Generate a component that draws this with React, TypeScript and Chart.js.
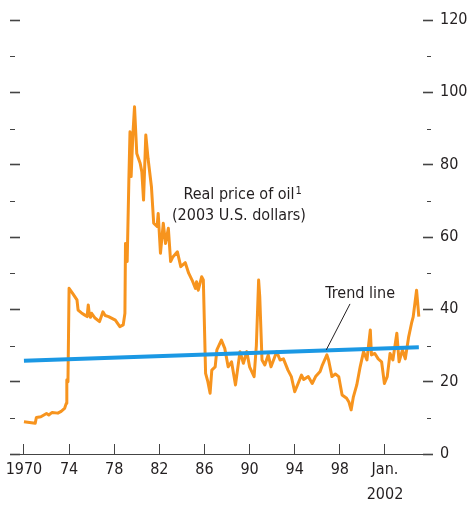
import React, { useEffect, useRef } from "react";
import { Chart, registerables } from "chart.js";

Chart.register(...registerables);

const FONT = "'DejaVu Sans Condensed', 'Liberation Sans Narrow', sans-serif";
const FS = 16;

// Real price of oil (2003 U.S. dollars)
const oilYears = [
  1970.0, 1970.5, 1971.0, 1971.1, 1971.5, 1972.0, 1972.2, 1972.5, 1973.0, 1973.3,
  1973.6, 1973.75, 1973.8, 1973.9, 1974.0, 1974.3, 1974.7, 1974.8, 1975.1, 1975.4,
  1975.6, 1975.7, 1975.8, 1975.9, 1976.0, 1976.3, 1976.7, 1977.0, 1977.2, 1977.5,
  1978.1, 1978.5, 1978.8, 1978.95, 1979.0, 1979.15, 1979.3, 1979.4, 1979.5, 1979.65,
  1979.8, 1980.0, 1980.3, 1980.45, 1980.6, 1980.8, 1981.0, 1981.3, 1981.5, 1981.8,
  1981.9, 1982.1, 1982.35, 1982.55, 1982.8, 1983.0, 1983.2, 1983.6, 1983.9, 1984.3,
  1984.6, 1984.9, 1985.2, 1985.3, 1985.45, 1985.75, 1985.9, 1986.1, 1986.3, 1986.5,
  1986.65, 1986.95, 1987.1, 1987.5, 1987.8, 1988.1, 1988.4, 1988.75, 1989.15, 1989.45,
  1989.75, 1990.0, 1990.4, 1990.6, 1990.8, 1990.9, 1991.1, 1991.35, 1991.65, 1991.9,
  1992.4, 1992.7, 1993.0, 1993.4, 1993.7, 1994.0, 1994.3, 1994.6, 1994.8, 1995.2,
  1995.55, 1995.85, 1996.25, 1996.45, 1996.85, 1997.0, 1997.3, 1997.6, 1997.9, 1998.2,
  1998.6, 1998.8, 1999.0, 1999.2, 1999.5, 1999.8, 2000.1, 2000.4, 2000.7, 2000.8,
  2001.1, 2001.4, 2001.7, 2001.95, 2002.2, 2002.45, 2002.7, 2003.05, 2003.25, 2003.55,
  2003.8, 2004.1, 2004.35, 2004.5, 2004.8, 2005.0,
];
const oilValues = [
  8.9, 8.7, 8.5, 10.1, 10.3, 11.2, 10.8, 11.5, 11.3, 11.8,
  12.6, 14.0, 20.5, 20.0, 45.8, 44.5, 42.6, 39.8, 39.0, 38.4,
  38.0, 41.2, 38.5, 37.8, 38.9, 37.6, 36.6, 39.3, 38.3, 38.0,
  37.0, 35.2, 35.7, 38.9, 58.2, 53.2, 75.8, 89.1, 76.7, 88.0,
  96.0, 83.1, 80.4, 78.0, 70.2, 88.2, 81.7, 73.9, 63.8, 62.9,
  66.5, 55.5, 63.8, 58.2, 62.4, 53.2, 54.5, 55.9, 51.8, 52.9,
  50.0, 48.1, 45.8, 47.6, 45.3, 49.0, 48.1, 22.3, 20.0, 16.8,
  23.2, 24.1, 28.8, 31.5, 29.2, 24.1, 25.5, 19.1, 28.3, 25.1,
  28.3, 24.1, 21.4, 30.0, 48.1, 43.5, 26.0, 24.6, 27.4, 24.1,
  28.3, 26.0, 26.3, 23.2, 21.4, 17.2, 19.5, 21.8, 20.6, 21.4,
  19.5, 21.4, 22.8, 24.6, 27.4, 26.0, 21.4, 22.1, 21.4, 16.3,
  15.4, 14.4, 12.2, 15.8, 19.1, 24.1, 28.3, 26.0, 34.3, 27.4,
  27.8, 26.3, 25.5, 19.5, 21.4, 27.8, 26.0, 33.4, 25.5, 28.8,
  26.3, 32.4, 36.1, 37.9, 45.3, 38.0,
];

const trendYears = [1970.0, 2005.0];
const trendValues = [25.8, 29.5];

const xTickYears = [1970, 1974, 1978, 1982, 1986, 1990, 1994, 1998, 2002];
const xTickLabels: (string | string[])[] = ["1970", "74", "78", "82", "86", "90", "94", "98", ["Jan.", "2002"]];
const yTickValues = [0, 10, 20, 30, 40, 50, 60, 70, 80, 90, 100, 110, 120];

const ORANGE = "#f7941e";
const BLUE = "#1b98e4";
const TEXT = "#231f20";
const TICK = "#444444";

const annotationPlugin = {
  id: "annotations",
  afterDatasetsDraw(chart: any) {
    const { ctx, scales } = chart;
    const x = scales.x;
    const y = scales.yR;
    ctx.save();
    ctx.fillStyle = TEXT;
    ctx.textBaseline = "alphabetic";
    ctx.font = `${FS}px ${FONT}`;
    const main = "Real price of oil";
    const cx = x.getPixelForValue(1989.06);
    const w = ctx.measureText(main).width;
    const by = y.getPixelForValue(70.5);
    ctx.textAlign = "left";
    ctx.fillText(main, cx - w / 2, by);
    ctx.font = `11px ${FONT}`;
    ctx.fillText("1", cx + w / 2 + 1, by - 5);
    ctx.font = `${FS}px ${FONT}`;
    ctx.textAlign = "center";
    ctx.fillText("(2003 U.S. dollars)", cx, y.getPixelForValue(64.8));
    ctx.fillText("Trend line", x.getPixelForValue(1999.8), y.getPixelForValue(43.0));
    ctx.strokeStyle = TEXT;
    ctx.lineWidth = 1;
    ctx.beginPath();
    ctx.moveTo(x.getPixelForValue(1998.9), y.getPixelForValue(41.5));
    ctx.lineTo(x.getPixelForValue(1996.8), y.getPixelForValue(28.8));
    ctx.stroke();
    ctx.restore();
  },
};

const minorTickPlugin = {
  id: "minorTicks",
  afterDraw(chart: any) {
    const { ctx, scales, chartArea } = chart;
    ctx.save();
    ctx.strokeStyle = TICK;
    ctx.lineWidth = 1;
    for (const v of yTickValues) {
      if (v % 20 === 0) continue;
      const py = Math.round(scales.yL.getPixelForValue(v)) + 0.5;
      ctx.beginPath();
      ctx.moveTo(chartArea.left - 10, py);
      ctx.lineTo(chartArea.left - 5, py);
      ctx.moveTo(chartArea.right + 4, py);
      ctx.lineTo(chartArea.right + 8, py);
      ctx.stroke();
    }
    ctx.restore();
  },
};

const noPad = (s: any) => {
  s.paddingLeft = 0;
  s.paddingRight = 0;
  s.paddingTop = 0;
  s.paddingBottom = 0;
};

export default function App() {
  const ref = useRef<HTMLCanvasElement>(null);
  useEffect(() => {
    if (!ref.current) return;
    const chart = new Chart(ref.current, {
      type: "line",
      data: {
        datasets: [
          {
            label: "Trend line",
            data: trendYears.map((yr, i) => ({ x: yr, y: trendValues[i] })),
            borderColor: BLUE,
            borderWidth: 4,
            pointRadius: 0,
            xAxisID: "x",
            yAxisID: "yR",
          },
          {
            label: "Real price of oil",
            data: oilYears.map((yr, i) => ({ x: yr, y: oilValues[i] })),
            borderColor: ORANGE,
            borderWidth: 3,
            borderJoinStyle: "round",
            pointRadius: 0,
            xAxisID: "x",
            yAxisID: "yR",
          },
        ],
      },
      options: {
        animation: false,
        responsive: true,
        maintainAspectRatio: false,
        layout: { padding: { top: 20, left: 0, right: 0, bottom: 0 } },
        plugins: { legend: { display: false }, tooltip: { enabled: false } },
        scales: {
          x: {
            type: "linear",
            position: "bottom",
            min: 1969.65,
            max: 2005.37,
            afterBuildTicks: (s: any) => {
              s.ticks = xTickYears.map((v) => ({ value: v }));
            },
            afterFit: (s: any) => {
              s.height = 54;
              noPad(s);
            },
            ticks: {
              autoSkip: false,
              maxRotation: 0,
              padding: 13,
              color: TEXT,
              font: { family: FONT, size: FS, lineHeight: 1.56 },
              callback: (v: any) => {
                const i = xTickYears.indexOf(Number(v));
                return i >= 0 ? xTickLabels[i] : "";
              },
            },
            grid: {
              drawOnChartArea: false,
              drawTicks: true,
              tickLength: -10,
              tickColor: TICK,
              tickWidth: 1,
            },
            border: { display: true, color: TICK, width: 1 },
          },
          yL: {
            type: "linear",
            position: "left",
            min: 0,
            max: 120,
            afterBuildTicks: (s: any) => {
              s.ticks = yTickValues.map((v) => ({ value: v }));
            },
            afterFit: (s: any) => {
              s.width = 20;
              noPad(s);
            },
            ticks: { display: false },
            grid: {
              drawOnChartArea: false,
              drawTicks: true,
              tickLength: 10,
              tickWidth: 1.6,
              tickColor: (c: any) => (c.tick && c.tick.value % 20 === 0 ? TICK : "transparent"),
            },
            border: { display: false },
          },
          yR: {
            type: "linear",
            position: "right",
            min: 0,
            max: 120,
            afterBuildTicks: (s: any) => {
              s.ticks = yTickValues.map((v) => ({ value: v }));
            },
            afterFit: (s: any) => {
              s.width = 50;
              noPad(s);
            },
            ticks: {
              padding: 7,
              color: TEXT,
              font: { family: FONT, size: FS },
              callback: (v: any) => (Number(v) % 20 === 0 ? String(v) : ""),
            },
            grid: {
              drawOnChartArea: false,
              drawTicks: true,
              tickLength: 10,
              tickWidth: 1.6,
              tickColor: (c: any) => (c.tick && c.tick.value % 20 === 0 ? TICK : "transparent"),
            },
            border: { display: false },
          },
        },
      } as any,
      plugins: [annotationPlugin, minorTickPlugin],
    });
    return () => chart.destroy();
  }, []);
  return (
    <div style={{ position: "fixed", left: 0, top: 0, width: 473, height: 508, background: "#fff" }}>
      <canvas ref={ref} />
    </div>
  );
}
